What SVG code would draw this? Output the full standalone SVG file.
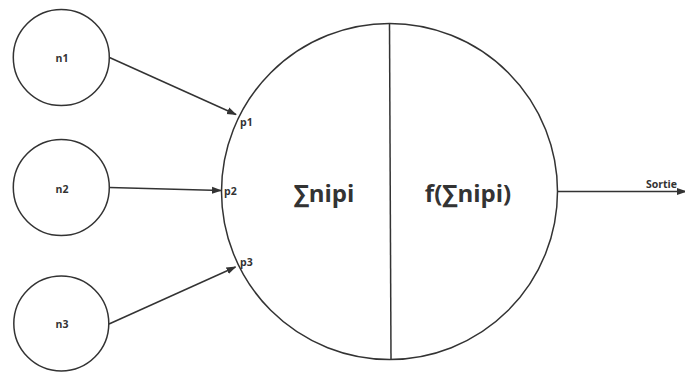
<svg xmlns="http://www.w3.org/2000/svg" width="685" height="372" viewBox="0 0 685 372">
<style>
.c{fill:#fff;stroke:#333;stroke-width:1.5}
.l{stroke:#333;stroke-width:1.5;fill:none}
.t{font-family:"Open Sans","Noto Sans","DejaVu Sans",sans-serif;font-weight:bold;fill:#333}
.s{font-size:10.5px}
.b{font-size:24px}
</style>
<defs>
<marker id="ah" viewBox="0 0 10 10" refX="9" refY="5" markerWidth="10" markerHeight="10" markerUnits="userSpaceOnUse" orient="auto">
<path d="M0,1.5 L10,5 L0,8.5 Z" fill="#333"/>
</marker>
</defs>
<rect width="685" height="372" fill="#fff"/>
<g id="neuron">
<circle class="c" cx="389.5" cy="191.5" r="168"/>
<line class="l" x1="389.5" y1="23.5" x2="391" y2="359.5"/>
<text class="t b" x="324" y="202" text-anchor="middle">∑nipi</text>
<text class="t b" x="468" y="202" text-anchor="middle">f(∑nipi)</text>
<text class="t s" x="240" y="126">p1</text>
<text class="t s" x="224" y="195">p2</text>
<text class="t s" x="240" y="266">p3</text>
</g>
<g id="n1">
<circle class="c" cx="61.3" cy="57.5" r="48"/>
<text class="t s" x="62" y="62" text-anchor="middle">n1</text>
</g>
<g id="n2">
<circle class="c" cx="61.3" cy="187.5" r="48"/>
<text class="t s" x="62" y="192.5" text-anchor="middle">n2</text>
</g>
<g id="n3">
<circle class="c" cx="61.3" cy="323.5" r="47.5"/>
<text class="t s" x="62" y="328" text-anchor="middle">n3</text>
</g>
<g id="connectors">
<line class="l" x1="109.5" y1="57.5" x2="236" y2="114.5" marker-end="url(#ah)"/>
<line class="l" x1="109.5" y1="187.5" x2="221" y2="190.5" marker-end="url(#ah)"/>
<line class="l" x1="109" y1="324" x2="235.5" y2="267" marker-end="url(#ah)"/>
<line class="l" x1="557.5" y1="191.5" x2="686" y2="191.5" marker-end="url(#ah)"/>
<text class="t s" x="646" y="187.5">Sortie</text>
</g>
</svg>
